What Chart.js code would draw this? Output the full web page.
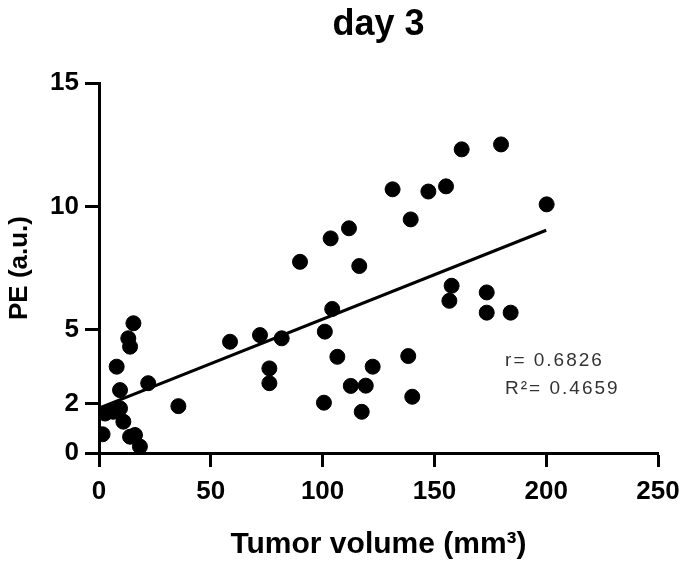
<!DOCTYPE html>
<html>
<head>
<meta charset="utf-8">
<script src="https://cdn.jsdelivr.net/npm/chart.js@4.4.0/dist/chart.umd.min.js"></script>
<style>
    html, body { margin: 0; padding: 0; background: #fff; }
    #wrap { width: 685px; height: 570px; }
</style>
</head>
<body>
<div id="wrap"><canvas id="myChart" width="685" height="570"></canvas></div>
<script>
// tumor volume (mm3) and PE (a.u.) per animal, day 3
var volume = [1.6, 2.7, 6.4, 9.4, 10.9, 13.9, 16.1, 18.3, 9.4, 7.9, 13.9, 13.1, 15.4, 22, 35.5,
    58.6, 72, 81.7, 76.2, 76.2, 89.9, 103.6, 111.8, 116.4, 104.3, 101, 106.6, 122.4, 138.3,
    112.6, 119.3, 100.6, 117.5, 140.1, 139.4, 131.3, 147.3, 155.2, 162.2, 179.8, 200.2,
    157.7, 156.7, 173.4, 173.4, 184.1];
var pe = [0.76, 1.6, 1.67, 1.81, 1.27, 0.66, 0.73, 0.26, 2.55, 3.5, 4.31, 4.65, 5.26, 2.83, 1.9,
    4.51, 4.78, 4.65, 3.43, 2.83, 7.75, 8.7, 9.11, 7.58, 5.84, 4.92, 3.9, 3.5, 3.93,
    2.72, 2.73, 2.04, 1.67, 2.28, 9.47, 10.69, 10.6, 10.81, 12.31, 12.51, 10.08,
    6.78, 6.17, 6.51, 5.69, 5.69];

// regression line end points
var fitX = [0, 200];
var fitY = [1.82, 9.03];

var yTicks = [0, 2, 5, 10, 15];
var xTicks = [0, 50, 100, 150, 200, 250];
var stats = ['r= 0.6826', 'R\u00b2= 0.4659'];

var fontFam = '"Liberation Sans", Arial, Helvetica, sans-serif';

var overlay = {
    id: 'overlay',
    afterDraw(chart) {
        var ctx = chart.ctx;
        var area = chart.chartArea;
        var xs = chart.scales.x, ys = chart.scales.y;
        ctx.save();
        // title, centred over the plot area
        ctx.fillStyle = '#000';
        ctx.font = 'bold 36px ' + fontFam;
        ctx.textAlign = 'center';
        ctx.textBaseline = 'alphabetic';
        ctx.fillText('day 3', (area.left + area.right) / 2, 35);
        // r / R2 text
        ctx.fillStyle = '#333';
        ctx.font = '19px ' + fontFam;
        ctx.letterSpacing = '2px';
        ctx.textAlign = 'left';
        ctx.textBaseline = 'middle';
        ctx.fillText(stats[0], xs.getPixelForValue(181.6), ys.getPixelForValue(3.72));
        ctx.fillText(stats[1], xs.getPixelForValue(181.6), ys.getPixelForValue(2.6));
        ctx.restore();
    }
};

function createChart() {
    var points = volume.map((v, i) => ({x: v, y: pe[i]}));
    var line = fitX.map((v, i) => ({x: v, y: fitY[i]}));

    const config = {
        type: 'scatter',
        data: {
            datasets: [
                {
                    data: points,
                    backgroundColor: '#000',
                    borderColor: '#000',
                    pointRadius: 7.5,
                    pointHoverRadius: 7.5,
                },
                {
                    type: 'line',
                    data: line,
                    borderColor: '#000',
                    borderWidth: 3,
                    pointRadius: 0,
                    fill: false,
                }
            ]
        },
        options: {
            responsive: false,
            animation: false,
            layout: { padding: { top: 83, right: 27, bottom: 0, left: 0 } },
            plugins: {
                legend: { display: false },
                tooltip: { enabled: false },
            },
            scales: {
                x: {
                    type: 'linear',
                    min: 0,
                    max: 250,
                    afterBuildTicks: s => { s.ticks = xTicks.map(v => ({value: v})); },
                    afterFit: s => { s.height = 117; s.paddingRight = 0; s.paddingLeft = 0; },
                    border: { display: true, color: '#000', width: 3 },
                    grid: { drawOnChartArea: false, drawTicks: true, tickLength: 14, tickWidth: 3, tickColor: '#000' },
                    ticks: { color: '#000', padding: 9, font: { family: fontFam, size: 26, weight: 'bold' } },
                    title: {
                        display: true,
                        text: 'Tumor volume (mm\u00b3)',
                        color: '#000',
                        padding: { top: 0, bottom: 7 },
                        font: { family: fontFam, size: 30, weight: 'bold' }
                    }
                },
                y: {
                    min: 0,
                    max: 15,
                    afterBuildTicks: s => { s.ticks = yTicks.map(v => ({value: v})); },
                    afterFit: s => { s.width = 99; },
                    border: { display: true, color: '#000', width: 3 },
                    grid: { drawOnChartArea: false, drawTicks: true, tickLength: 14, tickWidth: 3, tickColor: '#000' },
                    ticks: { color: '#000', padding: 6, font: { family: fontFam, size: 26, weight: 'bold' } },
                    title: {
                        display: true,
                        text: 'PE (a.u.)',
                        color: '#000',
                        padding: { top: 4, bottom: 0 },
                        font: { family: fontFam, size: 26, weight: 'bold' }
                    }
                }
            }
        },
        plugins: [overlay]
    };

    new Chart(document.getElementById('myChart'), config);
}

createChart();
</script>
</body>
</html>
